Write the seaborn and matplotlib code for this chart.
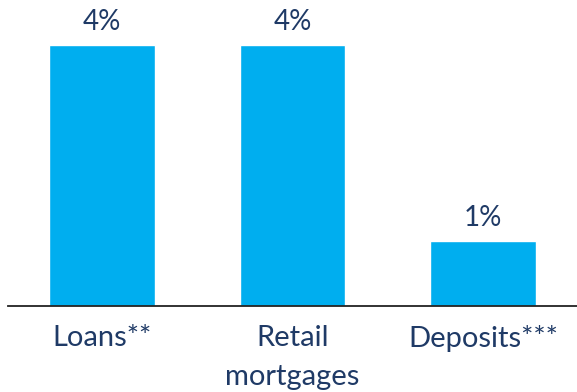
import matplotlib
matplotlib.use("Agg")
import matplotlib.pyplot as plt
import seaborn as sns
import pandas as pd

categories = ["Loans**", "Retail\nmortgages", "Deposits***"]
values = [4, 4, 1]
value_labels = ["4%", "4%", "1%"]

sns.set_style("white")
plt.rcParams["font.family"] = ["Lato", "DejaVu Sans"]

bar_color = "#00AEEF"
text_color = "#1F3A66"

df = pd.DataFrame({"category": categories, "value": values})

fig = plt.figure(figsize=(5.77, 3.92), dpi=100)
ax = fig.add_axes([8 / 577, 1 - 306 / 392, 1 - 8 / 577, 306 / 392])

sns.barplot(data=df, x="category", y="value", color=bar_color,
            saturation=1, width=0.556, ax=ax)

ax.set_xlim(-0.493, 2.493)
ax.set_ylim(0, 4 * 306 / 261)

for patch, lab in zip(ax.patches, value_labels):
    ax.annotate(lab, (patch.get_x() + patch.get_width() / 2, patch.get_height()),
                xytext=(0, 7), textcoords="offset points",
                ha="center", va="bottom", fontsize=20, color=text_color)

for side in ["top", "right", "left"]:
    ax.spines[side].set_visible(False)
ax.spines["bottom"].set_color("#222222")
ax.spines["bottom"].set_linewidth(1.3)

ax.set_yticks([])
ax.set_xlabel("")
ax.set_ylabel("")
ax.tick_params(axis="x", length=0, pad=14, labelsize=21, labelcolor=text_color)
for t in ax.get_xticklabels():
    t.set_linespacing(1.6)

fig.savefig("out.png", dpi=100)
